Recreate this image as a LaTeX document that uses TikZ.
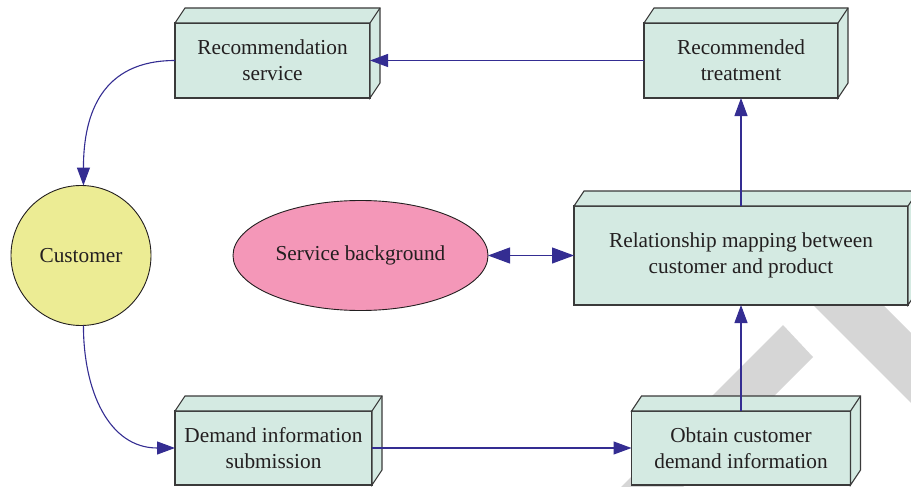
\documentclass[tikz,border=0pt]{standalone}
\usepackage{fontspec}
\setmainfont{Liberation Serif}
\usetikzlibrary{arrows.meta,calc,shapes.geometric}

\definecolor{boxfill}{HTML}{D4EAE2}
\definecolor{boxline}{HTML}{3A3A3A}
\definecolor{custfill}{HTML}{ECEC94}
\definecolor{bgfill}{HTML}{F497B8}
\definecolor{flowblue}{HTML}{342D92}
\definecolor{wmgray}{HTML}{D6D6D6}
\definecolor{txt}{HTML}{231F20}

\begin{document}
\begin{tikzpicture}[x=1pt,y=-1pt,
  font=\fontsize{21.3}{26}\selectfont,
  stepbox/.style={draw=boxline, fill=boxfill, line width=1.1pt, align=center,
    inner sep=0pt, outer sep=0pt, text=txt},
  face/.style={draw=boxline, fill=boxfill, line width=1.1pt, line join=miter},
  flow/.style={draw=flowblue, line width=1.1pt,
    -{Triangle[length=18pt,width=13pt]}},
  bigtip/.style={draw=flowblue, line width=1.1pt,
    {Triangle[length=22pt,width=16pt]}-{Triangle[length=22pt,width=16pt]}}]

\useasboundingbox (0,0) rectangle (911,487);
\clip (0,0) rectangle (911,487);

% light diagonal bands in the background
\fill[wmgray] (783,325) -- (813,357) -- (513,657) -- (483,625) -- cycle;
\fill[wmgray] (800,222) -- (765,257) -- (1065,557) -- (1100,522) -- cycle;

% process boxes (front faces)
\node[stepbox, minimum width=195pt, minimum height=75pt] (rs) at (272.5,60.5)
  {Recommendation\\service};
\node[stepbox, minimum width=194pt, minimum height=75pt] (rt) at (741,60.5)
  {Recommended\\treatment};
\node[stepbox, minimum width=334pt, minimum height=99pt] (rm) at (741,255.5)
  {Relationship mapping between\\customer and product};
\node[stepbox, minimum width=197pt, minimum height=74pt] (ds) at (273.5,448)
  {Demand information\\submission};
\node[stepbox, minimum width=219pt, minimum height=74pt] (oc) at (741,448)
  {Obtain customer\\demand information};

% top and right faces of each box
\foreach \n in {rs,rt,rm,ds,oc}{
  \draw[face] (\n.north west) -- ++(10,-15) -- ($(\n.north east)+(10,-15)$)
    -- ($(\n.south east)+(10,-15)$) -- (\n.south east) -- (\n.north east) -- cycle;
  \draw[face] (\n.north east) -- ++(10,-15);
}

% customer and service background
\node[circle, draw=txt, fill=custfill, line width=0.9pt, minimum size=140pt,
  inner sep=0pt, outer sep=0pt, text=txt] (cu) at (81,255.5) {Customer};
\node[ellipse, draw=txt, fill=bgfill, line width=0.9pt, minimum width=255pt,
  minimum height=110pt, inner sep=0pt, outer sep=0pt, text=txt] (sb)
  at (360.5,255.5) {Service background};

% connectors
\draw[flow] (rs.west) to[out=180,in=90,looseness=1.2] (cu.88);
\draw[flow] (cu.-88) to[out=-90,in=180,looseness=1.1] (ds.west);
\draw[flow] (ds.east) -- (oc.west);
\draw[flow] (oc.north) -- (rm.south);
\draw[flow] (rm.north) -- (rt.south);
\draw[flow] (rt.west) -- (rs.east);
\draw[bigtip] (sb.east) -- (rm.west);

\end{tikzpicture}
\end{document}
